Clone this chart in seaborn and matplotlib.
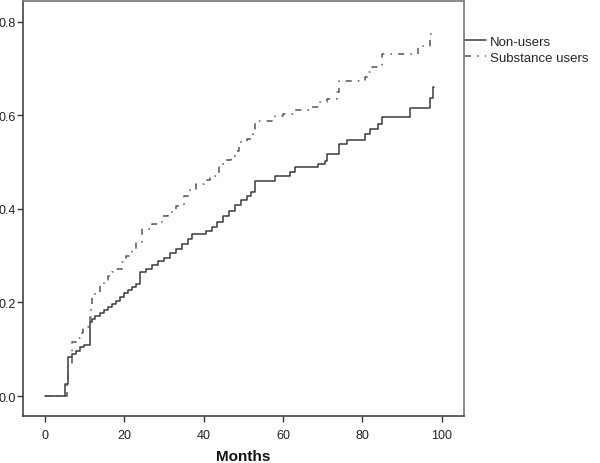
import matplotlib
matplotlib.use("Agg")
import matplotlib.pyplot as plt
import numpy as np
import pandas as pd
import seaborn as sns

# ─── Data ───────────────────────────────────────────────────────────────────
nonusers_months = [0, 5, 6, 7, 8, 9, 10, 11.3, 12, 12.6, 14, 15, 16, 17, 18, 19,
                   20, 21, 22, 23, 24, 25.5, 27, 28.5, 30, 31.5, 33, 34.5, 36, 37,
                   40.6, 42, 43.5, 45, 46.5, 48, 49.5, 51, 52, 53, 58, 61.7, 63,
                   68.8, 70.5, 71, 74, 76, 80.6, 81.9, 83.9, 84.9, 92, 97, 97.8, 98]
nonusers_cum = [0.0, 0.026, 0.083, 0.090, 0.097, 0.104, 0.110, 0.158, 0.165, 0.171,
                0.178, 0.183, 0.190, 0.197, 0.204, 0.212, 0.220, 0.226, 0.233, 0.240,
                0.265, 0.272, 0.280, 0.288, 0.296, 0.305, 0.315, 0.325, 0.335, 0.347,
                0.353, 0.362, 0.372, 0.384, 0.396, 0.408, 0.420, 0.428, 0.436, 0.460,
                0.471, 0.480, 0.489, 0.496, 0.503, 0.518, 0.539, 0.547, 0.560, 0.571,
                0.582, 0.597, 0.616, 0.637, 0.661, 0.661]

users_months = [0, 5.5, 6, 7, 8, 8.8, 9.6, 11.3, 11.6, 12, 13.9, 15, 16, 17, 18,
                19.4, 20.5, 21.9, 23, 24.4, 27, 29.5, 31, 33, 35, 36.5, 38, 40,
                41.6, 44, 45.5, 47, 48, 49, 51, 52.4, 53, 58, 60, 63, 66.8, 69, 71,
                73.5, 74, 80.6, 81.4, 82.4, 85, 94, 97, 98]
users_cum = [0.0, 0.036, 0.064, 0.115, 0.125, 0.135, 0.148, 0.170, 0.190, 0.218,
             0.240, 0.248, 0.256, 0.265, 0.272, 0.287, 0.300, 0.315, 0.330, 0.357,
             0.368, 0.385, 0.393, 0.406, 0.428, 0.440, 0.453, 0.462, 0.470, 0.496,
             0.505, 0.513, 0.525, 0.543, 0.550, 0.565, 0.588, 0.598, 0.603, 0.612,
             0.618, 0.628, 0.635, 0.650, 0.673, 0.682, 0.693, 0.704, 0.732, 0.749,
             0.774, 0.774]

group_names = ["Non-users", "Substance users"]
x_ticks = [0, 20, 40, 60, 80, 100]
y_ticks = [0.0, 0.2, 0.4, 0.6, 0.8]

df = pd.concat([
    pd.DataFrame({"month": nonusers_months, "cum": nonusers_cum, "group": group_names[0]}),
    pd.DataFrame({"month": users_months, "cum": users_cum, "group": group_names[1]}),
], ignore_index=True)

# ─── Style ──────────────────────────────────────────────────────────────────
sns.set_theme(style="white")
plt.rcParams["font.family"] = ["Liberation Sans", "DejaVu Sans"]

fig = plt.figure(figsize=(6.0, 4.64), dpi=100)
ax = fig.add_axes([0.038, 0.101, 0.735, 0.895])

sns.lineplot(
    data=df, x="month", y="cum", hue="group", style="group",
    palette={group_names[0]: "#3a3a3a", group_names[1]: "#555555"},
    dashes={group_names[0]: "", group_names[1]: (4, 4, 1, 4)},
    drawstyle="steps-post", estimator=None, sort=False,
    linewidth=1.1, ax=ax,
)

ax.set_xlim(-5.5, 105.5)
ax.set_ylim(-0.043, 0.845)
ax.set_xticks(x_ticks)
ax.set_yticks(y_ticks)
ax.set_xticklabels([str(t) for t in x_ticks])
ax.set_yticklabels([f"{t:.1f}" for t in y_ticks])
ax.tick_params(axis="both", direction="out", length=4, width=1, color="#333333",
               labelsize=9, labelcolor="#222222", bottom=True, left=True)
ax.tick_params(axis="x", pad=5)
ax.tick_params(axis="y", pad=1)
ax.set_xlabel("Months", fontsize=11, fontweight="bold", color="#111111", labelpad=6)
ax.set_ylabel("")
for side, spine in ax.spines.items():
    spine.set_color("#444444" if side in ("left", "bottom") else "#777777")
    spine.set_linewidth(1.2)

ax.legend(loc="upper left", bbox_to_anchor=(1.0, 0.92), frameon=False,
          fontsize=9.5, handlelength=1.6, handletextpad=0.3, borderaxespad=0.0,
          borderpad=0.1, labelspacing=0.3, title=None)

fig.savefig("out.png", dpi=100)
